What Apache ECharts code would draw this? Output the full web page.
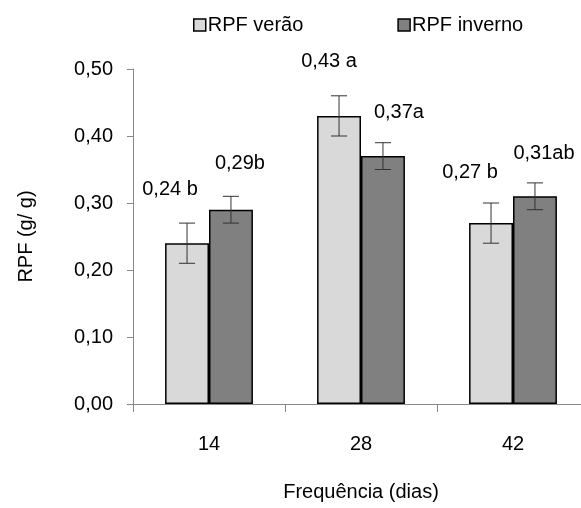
<!DOCTYPE html>
<html><head><meta charset="utf-8">
<script src="https://cdn.jsdelivr.net/npm/echarts@6/dist/echarts.min.js"></script>
<style>html,body{margin:0;padding:0;background:#fff}#c{width:581px;height:508px}</style>
</head><body><div id="c"></div>
<script>
const categories = ['14', '28', '42'];
const seriesNames = ['RPF verão', 'RPF inverno'];
const verao = [0.24, 0.43, 0.27];
const inverno = [0.29, 0.37, 0.31];
const veraoErr = [0.03, 0.03, 0.03];
const invernoErr = [0.02, 0.02, 0.02];
const veraoLabels = ['0,24 b', '0,43 a', '0,27 b'];
const invernoLabels = ['0,29b', '0,37a', '0,31ab'];
const yTicks = [0, 0.1, 0.2, 0.3, 0.4, 0.5];

// label offsets (layout only)
const veraoLabelOffset = [[-17, -39], [-10, -39], [-21, -36]];
const invernoLabelOffset = [[9, -31], [16, -29], [9, -28]];

const FONT = 'Liberation Sans, Arial, sans-serif';
const chart = echarts.init(document.getElementById('c'));

function barData(vals, labels, offs) {
  return vals.map((v, i) => ({
    value: v,
    label: { formatter: labels[i], offset: offs[i] }
  }));
}

const BARW = 0.289;

function errSeries(vals, errs, side) {
  return {
    type: 'custom',
    silent: true,
    z: 10,
    data: vals.map((v, i) => [i, v, errs[i]]),
    renderItem: function (params, api) {
      const i = api.value(0), v = api.value(1), e = api.value(2);
      const cw = api.size([1, 0])[0];
      const cx = api.coord([i, v])[0] + side * cw * BARW / 2;
      const yt = api.coord([i, v + e])[1];
      const yb = api.coord([i, v - e])[1];
      const hw = cw * 0.053;
      const st = { stroke: '#333', lineWidth: 1 };
      return { type: 'group', children: [
        { type: 'line', shape: { x1: cx, y1: yt, x2: cx, y2: yb }, style: st },
        { type: 'line', shape: { x1: cx - hw, y1: yt, x2: cx + hw, y2: yt }, style: st },
        { type: 'line', shape: { x1: cx - hw, y1: yb, x2: cx + hw, y2: yb }, style: st }
      ]};
    }
  };
}

chart.setOption({
  animation: false,
  textStyle: { fontFamily: FONT },
  grid: { left: 133, right: -8, top: 69, bottom: 104, outerBoundsMode: 'none', containLabel: false },
  legend: {
    data: seriesNames,
    left: 193, top: 15, padding: 0,
    icon: 'rect', itemWidth: 12, itemHeight: 12, itemGap: 94,
    textStyle: { fontFamily: FONT, fontSize: 20, color: '#000', padding: [0, 0, 0, -3] },
    itemStyle: { borderColor: '#000', borderWidth: 1.5 }
  },
  xAxis: {
    type: 'category',
    data: categories,
    name: 'Frequência (dias)',
    nameLocation: 'middle',
    nameGap: 78,
    nameTextStyle: { fontFamily: FONT, fontSize: 20, color: '#000' },
    axisLine: { lineStyle: { color: '#888', width: 1 } },
    axisTick: { show: true, length: 8, lineStyle: { color: '#888' } },
    axisLabel: { margin: 30, fontFamily: FONT, fontSize: 20, color: '#000' }
  },
  yAxis: {
    type: 'value',
    min: 0, max: 0.5, interval: 0.1,
    name: 'RPF (g/ g)',
    nameLocation: 'middle',
    nameGap: 97,
    nameRotate: 90,
    nameTextStyle: { fontFamily: FONT, fontSize: 20, color: '#000' },
    axisLine: { show: true, lineStyle: { color: '#888', width: 1 } },
    axisTick: { show: true, length: 6, lineStyle: { color: '#888' } },
    splitLine: { show: false },
    axisLabel: {
      margin: 20, fontFamily: FONT, fontSize: 20, color: '#000',
      formatter: v => {
        const t = yTicks.find(k => Math.abs(k - v) < 1e-9);
        return (t !== undefined ? t : v).toFixed(2).replace('.', ',');
      }
    }
  },
  series: [
    {
      name: seriesNames[0], type: 'bar', barWidth: (BARW * 100) + '%', barGap: '0%',
      itemStyle: { color: '#d9d9d9', borderColor: '#000', borderWidth: 1.5 },
      label: { show: true, position: 'top', distance: 5, fontFamily: FONT, fontSize: 20, color: '#000' },
      data: barData(verao, veraoLabels, veraoLabelOffset)
    },
    {
      name: seriesNames[1], type: 'bar', barWidth: (BARW * 100) + '%', barGap: '0%',
      itemStyle: { color: '#808080', borderColor: '#000', borderWidth: 1.5 },
      label: { show: true, position: 'top', distance: 5, fontFamily: FONT, fontSize: 20, color: '#000' },
      data: barData(inverno, invernoLabels, invernoLabelOffset)
    },
    errSeries(verao, veraoErr, -1),
    errSeries(inverno, invernoErr, 1)
  ]
});
</script>
</body></html>
